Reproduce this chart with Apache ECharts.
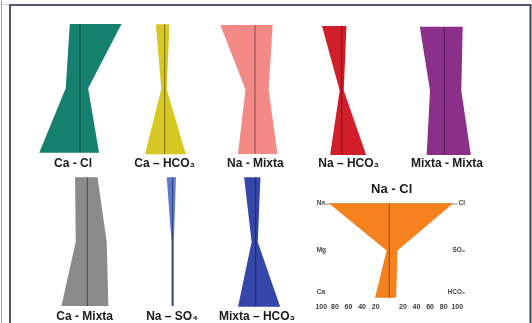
<!DOCTYPE html>
<html>
<head>
<meta charset="utf-8">
<script src="https://cdn.jsdelivr.net/npm/echarts@6/dist/echarts.min.js"></script>
<style>
  html, body { margin: 0; padding: 0; background: #ffffff; }
  #chart { width: 532px; height: 323px; }
</style>
</head>
<body>
<div id="chart"></div>
<script>
// Stiff diagrams: cations on the left (Na, Mg, Ca), anions on the right (Cl, SO4, HCO3)
const facies = ['Ca - Cl', 'Ca – HCO₃', 'Na - Mixta', 'Na – HCO₃', 'Mixta - Mixta',
                'Ca - Mixta', 'Na – SO₄', 'Mixta – HCO₃', 'Na - Cl'];
const cationNames = ['Na', 'Mg', 'Ca'];
const anionNames = ['Cl', 'SO₄', 'HCO₃'];

// percentage of each ion per facies
const naVals   = [15, 13, 51, 29, 36, 18, 8.5, 17, 89];
const mgVals   = [21,  5, 14,  3, 21, 17, 1.5,  6,  4];
const caVals   = [60, 29, 25, 17, 26, 38, 1.5, 26, 21];
const clVals   = [61,  7, 26,  7, 27, 15,   5,  7, 94];
const so4Vals  = [12,  3, 20,  3, 25, 28.5, 2,  3, 12];
const hco3Vals = [28, 31, 33, 36, 39, 31,   2, 36, 10];

const axisTicks = [-100, -80, -60, -40, -20, 0, 20, 40, 60, 80, 100];

const fillColors = ['#15806e', '#d7c722', '#f38a86', '#d01f2b', '#8c2f8b',
                    '#8a8a8a', '#5b79cf', '#3547a9', '#f5821f'];

// panel placement (pixel centre of the zero line, top and bottom of each diagram)
const centreX = [80, 164.7, 255, 341.7, 444.3, 87.3, 172.5, 255.7, 389.3];
const topY    = [24, 24.3, 25, 26, 26.7, 177.3, 177.3, 177.3, 203.3];
const bottomY = [152.7, 154.3, 154, 155, 155, 306, 306, 306.7, 297.7];
const labelX  = [73, 164.7, 255.3, 348.7, 447, 84.7, 172, 257];
const labelY  = [164, 164, 164, 164, 164, 316.7, 316.7, 316.7];
const HALF = 68; // pixels for 100 %

const grids = [], xAxes = [], yAxes = [], series = [];

facies.forEach((name, i) => {
  const isMain = i === facies.length - 1;
  grids.push({
    left: centreX[i] - HALF, width: 2 * HALF,
    top: topY[i], height: bottomY[i] - topY[i]
  });
  xAxes.push({
    gridIndex: i, type: 'value', min: -100, max: 100, interval: 20,
    show: isMain,
    offset: isMain ? 2 : 0,
    axisLine: { show: isMain, lineStyle: { color: '#b5b5b5', width: 1.5 } },
    axisTick: { show: false },
    splitLine: { show: false },
    axisLabel: {
      show: isMain, margin: 4, fontSize: 7, fontWeight: 'bold', color: '#3a3a3a',
      fontFamily: 'Liberation Sans',
      formatter: v => (v === 0 ? '' : String(Math.abs(v)))
    }
  });
  yAxes.push({
    gridIndex: i, type: 'value', min: 0, max: 2, inverse: true, show: false
  });

  const pts = [
    [-naVals[i], 0], [-mgVals[i], 1], [-caVals[i], 2],
    [hco3Vals[i], 2], [so4Vals[i], 1], [clVals[i], 0]
  ];
  series.push({
    type: 'custom',
    xAxisIndex: i, yAxisIndex: i,
    clip: false,
    silent: true,
    data: pts,
    encode: { x: 0, y: 1 },
    renderItem: (params, api) => {
      if (params.dataIndex !== 0) return null;
      const poly = pts.map(p => api.coord(p));
      const a = api.coord([0, 0]), b = api.coord([0, 2]);
      return {
        type: 'group',
        children: [
          { type: 'polygon', shape: { points: poly },
            style: { fill: fillColors[i], stroke: null } },
          { type: 'line', shape: { x1: a[0], y1: a[1], x2: b[0], y2: b[1] },
            style: { stroke: 'rgba(0,0,0,0.45)', lineWidth: 1 } }
        ]
      };
    }
  });
});

const graphics = [];
// facies names under each diagram
labelX.forEach((x, i) => {
  graphics.push({
    type: 'text', x: x, y: labelY[i],
    style: { text: facies[i], fill: '#1a1a1a', font: 'bold 12px "Liberation Sans"',
             textAlign: 'center', textVerticalAlign: 'middle' }
  });
});
// title of the detailed diagram
graphics.push({
  type: 'text', x: 391.7, y: 189.3,
  style: { text: facies[8], fill: '#1a1a1a', font: 'bold 13px "Liberation Sans"',
           textAlign: 'center', textVerticalAlign: 'middle' }
});
// ion names beside the detailed diagram
const ionY = [203.3, 250.5, 292.3];
cationNames.forEach((n, k) => graphics.push({
  type: 'text', x: 316.7, y: ionY[k],
  style: { text: n, fill: '#444', font: 'bold 6.5px "Liberation Sans"',
           textAlign: 'left', textVerticalAlign: 'middle' }
}));
anionNames.forEach((n, k) => graphics.push({
  type: 'text', x: 465, y: ionY[k],
  style: { text: n, fill: '#444', font: 'bold 6.5px "Liberation Sans"',
           textAlign: 'right', textVerticalAlign: 'middle' }
}));
// page frame
graphics.push(
  { type: 'line', shape: { x1: 1.5, y1: 0, x2: 1.5, y2: 323 }, style: { stroke: '#a0a0a8', lineWidth: 1 } },
  { type: 'line', shape: { x1: 0, y1: 4.5, x2: 10, y2: 4.5 }, style: { stroke: '#d0d0d6', lineWidth: 1 } },
  { type: 'line', shape: { x1: 10, y1: 5, x2: 10, y2: 323 }, style: { stroke: '#55556a', lineWidth: 2 } },
  { type: 'line', shape: { x1: 9, y1: 5, x2: 531, y2: 5 }, style: { stroke: '#55556a', lineWidth: 2 } },
  { type: 'line', shape: { x1: 530.5, y1: 4, x2: 530.5, y2: 323 }, style: { stroke: '#44445a', lineWidth: 2 } }
);

const chart = echarts.init(document.getElementById('chart'), null, { renderer: 'canvas' });
chart.setOption({
  backgroundColor: '#ffffff',
  animation: false,
  grid: grids,
  xAxis: xAxes,
  yAxis: yAxes,
  series: series,
  graphic: { elements: graphics }
});
</script>
</body>
</html>
